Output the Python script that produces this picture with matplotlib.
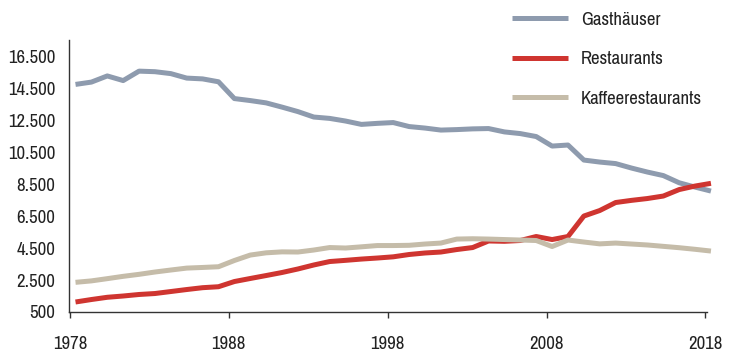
import numpy as np
import matplotlib
matplotlib.use("Agg")
import matplotlib.pyplot as plt
from matplotlib.ticker import FixedLocator, FuncFormatter

plt.rcParams['font.family'] = ['Archivo Narrow', 'Liberation Sans Narrow', 'DejaVu Sans']

years = list(range(1978, 2019))

gasthaeuser = [14730, 14875, 15260, 14970, 15560, 15525, 15405, 15125, 15075, 14895,
               13845, 13720, 13575, 13310, 13030, 12690, 12605, 12440, 12230, 12295,
               12345, 12095, 12000, 11875, 11905, 11950, 11970, 11760, 11655, 11470,
               10875, 10940, 10000, 9875, 9780, 9500, 9250, 9030, 8580, 8310, 8060]

restaurants = [1125, 1280, 1420, 1500, 1595, 1655, 1780, 1905, 2020, 2080,
               2405, 2595, 2780, 2970, 3190, 3440, 3655, 3730, 3810, 3875,
               3950, 4095, 4190, 4250, 4405, 4530, 4940, 4920, 4970, 5220,
               5030, 5220, 6500, 6845, 7345, 7480, 7595, 7750, 8155, 8375, 8545]

kaffee = [2355, 2445, 2585, 2730, 2855, 3000, 3125, 3245, 3285, 3330,
          3720, 4060, 4200, 4260, 4250, 4375, 4530, 4500, 4575, 4655,
          4655, 4670, 4750, 4810, 5060, 5080, 5060, 5030, 5000, 4970,
          4595, 5000, 4875, 4760, 4810, 4750, 4690, 4605, 4520, 4420, 4310]

labels = ["Gasthäuser", "Restaurants", "Kaffeerestaurants"]
colors = ["#8e9bae", "#cf3530", "#c5bca9"]
yticks = [500, 2500, 4500, 6500, 8500, 10500, 12500, 14500, 16500]
xticks = [1978, 1988, 1998, 2008, 2018]

fig = plt.figure(figsize=(7.29, 3.63), dpi=100)
ax = fig.add_axes([0.0953, 0.1405, 0.8745, 0.749])

# data sits a little right of the year ticks in the original
x = np.array(years) + 0.35
for series, lab, col in zip([gasthaeuser, restaurants, kaffee], labels, colors):
    ax.plot(x, series, color=col, lw=3.6, label=lab, clip_on=False,
            solid_joinstyle="round", solid_capstyle="butt")

ax.set_xlim(1977.97, 2018.1)
ax.set_ylim(500, 17500)
ax.xaxis.set_major_locator(FixedLocator(xticks))
ax.yaxis.set_major_locator(FixedLocator(yticks))
ax.yaxis.set_major_formatter(FuncFormatter(lambda v, p: f"{int(v):,}".replace(",", ".")))

for s in ["top", "right"]:
    ax.spines[s].set_visible(False)
for s in ["left", "bottom"]:
    ax.spines[s].set_color("#333333")
    ax.spines[s].set_linewidth(1.0)

ax.tick_params(axis="x", direction="out", length=4, width=1, color="#333333",
               labelsize=13.5, pad=13, labelcolor="#222222")
ax.tick_params(axis="y", length=0, labelsize=13.5, pad=10, labelcolor="#222222")

ax.legend(loc="upper left", bbox_to_anchor=(0.702, 0.968), bbox_transform=fig.transFigure,
          frameon=False, fontsize=13.5, handlelength=3.0, handletextpad=0.7,
          labelspacing=1.25, borderpad=0, borderaxespad=0, labelcolor="#222222")

fig.savefig("out.png", dpi=100)
